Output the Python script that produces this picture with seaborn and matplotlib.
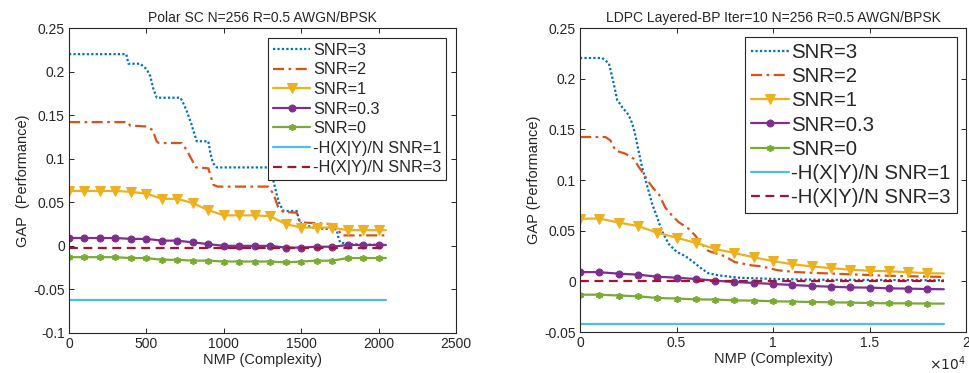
import numpy as np
import pandas as pd
import matplotlib
matplotlib.use("Agg")
import matplotlib.pyplot as plt
from matplotlib.ticker import FuncFormatter, MultipleLocator
import seaborn as sns

# ---------------- Left panel: Polar SC ----------------
polar_x3 = [0, 370, 384, 460, 500, 525, 545, 567, 720, 740, 760, 790, 825, 900, 915, 930, 955,
            1290, 1320, 1340, 1360, 1386, 1471, 1485, 1502, 1600, 1729, 1740, 1751, 1800, 2047]
polar_snr3 = [0.220, 0.220, 0.209, 0.209, 0.203, 0.195, 0.180, 0.170, 0.170, 0.163, 0.155, 0.140,
              0.120, 0.120, 0.105, 0.095, 0.090, 0.090, 0.075, 0.060, 0.048, 0.040, 0.040, 0.030,
              0.025, 0.020, 0.019, 0.010, 0.004, 0.002, 0.001]

polar_x2 = [0, 380, 395, 500, 540, 566, 580, 728, 760, 790, 820, 900, 915, 933, 960, 1286, 1320,
            1350, 1384, 1471, 1493, 1700, 1729, 1761, 2047]
polar_snr2 = [0.142, 0.142, 0.138, 0.137, 0.133, 0.120, 0.118, 0.118, 0.110, 0.100, 0.090, 0.089,
              0.080, 0.070, 0.068, 0.068, 0.060, 0.045, 0.039, 0.038, 0.027, 0.025, 0.022, 0.012, 0.012]

polar_xm = [0, 100, 200, 300, 400, 500, 600, 700, 800, 900, 1000, 1100, 1200, 1300, 1400,
            1500, 1600, 1700, 1800, 1900, 2000, 2047]
polar_snr1 = [0.063, 0.063, 0.063, 0.063, 0.062, 0.060, 0.054, 0.054, 0.049, 0.041, 0.035, 0.035,
              0.035, 0.034, 0.025, 0.021, 0.021, 0.021, 0.018, 0.018, 0.018, 0.018]
polar_snr03 = [0.009, 0.009, 0.009, 0.009, 0.008, 0.008, 0.006, 0.006, 0.004, 0.002, 0.000, 0.000,
               0.000, 0.000, -0.002, -0.002, -0.001, -0.001, 0.001, 0.001, 0.001, 0.001]
polar_snr0 = [-0.013, -0.013, -0.013, -0.013, -0.014, -0.014, -0.016, -0.016, -0.017, -0.017,
              -0.018, -0.018, -0.018, -0.018, -0.019, -0.018, -0.017, -0.017, -0.014, -0.014,
              -0.014, -0.014]
polar_xh = [0, 2047]
polar_h1 = [-0.0625, -0.0625]
polar_h3 = [-0.003, -0.003]

# ---------------- Right panel: LDPC ----------------
ldpc_x3 = [0, 1150, 1500, 1750, 1925, 2180, 2525, 2700, 2835, 2955, 3210, 3470, 3730, 3990, 4240,
           4590, 5015, 5450, 5880, 6300, 6650, 7160, 8200, 10090, 12300, 18850]
ldpc_snr3 = [0.2204, 0.2204, 0.215, 0.195, 0.179, 0.172, 0.164, 0.156, 0.147, 0.136, 0.113, 0.095,
             0.077, 0.0635, 0.050, 0.037, 0.029, 0.025, 0.019, 0.0125, 0.008, 0.006, 0.0036,
             0.0023, 0.0016, 0.001]

ldpc_x2 = [0, 1320, 1580, 1840, 2350, 2780, 3040, 3300, 3560, 3810, 4070, 4415, 4760, 5100, 5620,
           5960, 6300, 6650, 6990, 7510, 8020, 8450, 8880, 9400, 9900, 10260, 11120, 12320, 14040,
           15760, 18850]
ldpc_snr2 = [0.1424, 0.1424, 0.139, 0.129, 0.126, 0.121, 0.113, 0.106, 0.098, 0.0914, 0.0865, 0.073,
             0.065, 0.0586, 0.052, 0.0454, 0.037, 0.030, 0.028, 0.0247, 0.019, 0.0174, 0.0158,
             0.0148, 0.0125, 0.0109, 0.0092, 0.0082, 0.0069, 0.0056, 0.0043]

ldpc_xm = [0, 1000, 2000, 3000, 4000, 5000, 6000, 7000, 8000, 9000, 10000, 11000, 12000, 13000,
           14000, 15000, 16000, 17000, 18000, 18850]
ldpc_snr1 = [0.0618, 0.062, 0.058, 0.0546, 0.048, 0.043, 0.038, 0.032, 0.028, 0.0237, 0.020, 0.0168,
             0.0148, 0.013, 0.0115, 0.0105, 0.0099, 0.009, 0.008, 0.0078]
ldpc_snr03 = [0.0092, 0.009, 0.0076, 0.0066, 0.0046, 0.0036, 0.0023, 0.0007, -0.0007, -0.0016,
              -0.0026, -0.0036, -0.0046, -0.0053, -0.006, -0.0062, -0.0069, -0.0072, -0.0076, -0.0078]
ldpc_snr0 = [-0.0132, -0.0132, -0.014, -0.0148, -0.0164, -0.017, -0.0178, -0.018, -0.0188, -0.019,
             -0.0197, -0.020, -0.0204, -0.0207, -0.021, -0.0214, -0.0217, -0.0217, -0.022, -0.022]
ldpc_xh = [0, 18850]
ldpc_h1 = [-0.0418, -0.0418]
ldpc_h3 = [0.0, 0.0]

labels = ["SNR=3", "SNR=2", "SNR=1", "SNR=0.3", "SNR=0",
          "-H(X|Y)/N SNR=1", "-H(X|Y)/N SNR=3"]
colors = ["#0072BD", "#D95319", "#EDB120", "#7E2F8E", "#77AC30", "#4DBEEE", "#A2142F"]

sns.set_theme(style="white")
plt.rcParams["font.family"] = ["Liberation Sans", "DejaVu Sans"]
plt.rcParams["axes.edgecolor"] = "#262626"
plt.rcParams["axes.linewidth"] = 0.8

fig = plt.figure(figsize=(9.69, 3.73), dpi=100)
axL = fig.add_axes([69 / 969, 40 / 373, 387 / 969, 305 / 373])
axR = fig.add_axes([580 / 969, 41 / 373, 386 / 969, 304 / 373])

LW = 1.6


def draw(ax, x3, y3, x2, y2, xm, y1, y03, y0, xh, h1, h3):
    nm = len(xm) - 1
    sns.lineplot(x=x3, y=y3, ax=ax, color=colors[0], lw=LW, linestyle=(0, (1, 1)), label=labels[0])
    sns.lineplot(x=x2, y=y2, ax=ax, color=colors[1], lw=LW, linestyle=(0, (5, 2, 1.2, 2)), label=labels[1])
    sns.lineplot(x=xm, y=y1, ax=ax, color=colors[2], lw=LW, marker="v", markersize=7,
                 markerfacecolor=colors[2], markeredgecolor=colors[2], markevery=slice(0, nm),
                 label=labels[2])
    sns.lineplot(x=xm, y=y03, ax=ax, color=colors[3], lw=LW, marker="o", markersize=5,
                 markerfacecolor=colors[3], markeredgecolor=colors[3], markevery=slice(0, nm),
                 label=labels[3])
    sns.lineplot(x=xm, y=y0, ax=ax, color=colors[4], lw=LW, marker=(6, 2, 0), markersize=5,
                 markeredgewidth=1.2, markeredgecolor=colors[4], markevery=slice(0, nm),
                 label=labels[4])
    sns.lineplot(x=xh, y=h1, ax=ax, color=colors[5], lw=LW, label=labels[5])
    sns.lineplot(x=xh, y=h3, ax=ax, color=colors[6], lw=LW, linestyle=(0, (4, 2.5)), label=labels[6])


draw(axL, polar_x3, polar_snr3, polar_x2, polar_snr2, polar_xm, polar_snr1, polar_snr03,
     polar_snr0, polar_xh, polar_h1, polar_h3)
draw(axR, ldpc_x3, ldpc_snr3, ldpc_x2, ldpc_snr2, ldpc_xm, ldpc_snr1, ldpc_snr03,
     ldpc_snr0, ldpc_xh, ldpc_h1, ldpc_h3)

fmt_g = FuncFormatter(lambda v, p: ("%g" % round(v, 4)) if abs(v) > 1e-9 else "0")

# Left axes
axL.set_xlim(0, 2500)
axL.set_ylim(-0.1, 0.25)
axL.xaxis.set_major_locator(MultipleLocator(500))
axL.yaxis.set_major_locator(MultipleLocator(0.05))
axL.yaxis.set_major_formatter(fmt_g)
axL.set_title("Polar SC N=256 R=0.5 AWGN/BPSK", fontsize=10, pad=4)
axL.set_xlabel("NMP (Complexity)", fontsize=10.5, labelpad=1)
axL.set_ylabel("GAP  (Performance)", fontsize=10.5, labelpad=2)

# Right axes
axR.set_xlim(0, 20000)
axR.set_ylim(-0.05, 0.25)
axR.xaxis.set_major_locator(MultipleLocator(5000))
axR.xaxis.set_major_formatter(FuncFormatter(lambda v, p: "%g" % (v / 1e4)))
axR.yaxis.set_major_locator(MultipleLocator(0.05))
axR.yaxis.set_major_formatter(fmt_g)
axR.set_title("LDPC Layered-BP Iter=10 N=256 R=0.5 AWGN/BPSK", fontsize=10, pad=4)
axR.set_xlabel("NMP (Complexity)", fontsize=10.5, labelpad=1)
axR.set_ylabel("GAP (Performance)", fontsize=10.5, labelpad=2)
axR.text(1.0, -0.075, r"$\times10^{4}$", transform=axR.transAxes, ha="right", va="top",
         fontsize=10, color="#262626")

for ax in (axL, axR):
    ax.tick_params(direction="in", length=3.5, width=0.7, top=True, right=True,
                   labelsize=10, colors="#262626", pad=3)
    ax.tick_params(axis="both", which="both", bottom=True, left=True)
    for s in ax.spines.values():
        s.set_visible(True)
        s.set_color("#262626")

legL = axL.legend(loc="upper right", bbox_to_anchor=(0.974, 0.967), borderaxespad=0,
                  fontsize=11.7, frameon=True, fancybox=False, framealpha=1,
                  edgecolor="#262626", handlelength=2.3, handletextpad=0.15,
                  labelspacing=0.28, borderpad=0.3)
legL.get_frame().set_linewidth(0.8)
legR = axR.legend(loc="upper right", bbox_to_anchor=(0.977, 0.970), borderaxespad=0,
                  fontsize=14.7, frameon=True, fancybox=False, framealpha=1,
                  edgecolor="#262626", handlelength=1.85, handletextpad=0.12,
                  labelspacing=0.25, borderpad=0.3)
legR.get_frame().set_linewidth(0.8)

fig.savefig("out.png", dpi=100)
